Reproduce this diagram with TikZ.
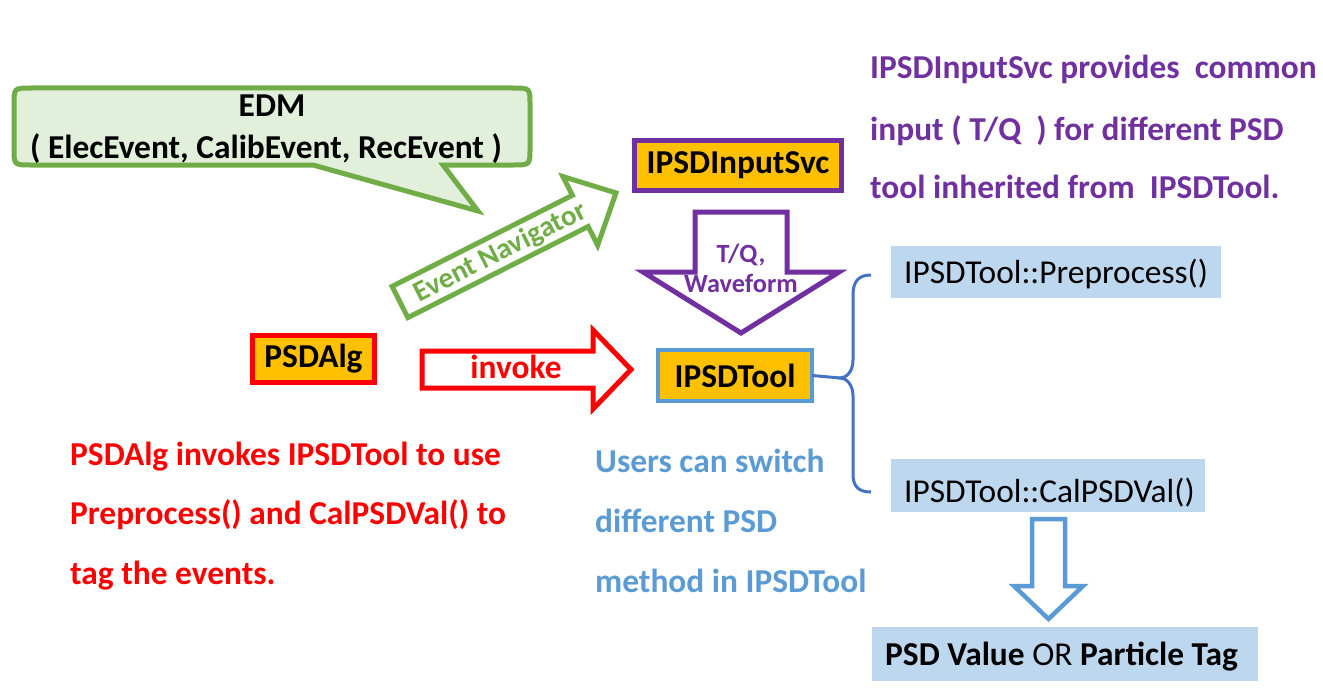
\documentclass[tikz,border=0pt]{standalone}
\usepackage{fontspec}
\setmainfont{Carlito}
\definecolor{grn}{HTML}{70AD47}
\definecolor{lgrn}{HTML}{E2EFDA}
\definecolor{orng}{HTML}{FFC000}
\definecolor{purp}{HTML}{7030A0}
\definecolor{redc}{HTML}{FF0000}
\definecolor{blu}{HTML}{5B9BD5}
\definecolor{dblu}{HTML}{4472C4}
\definecolor{lblu}{HTML}{BDD7EE}
\newcommand\bigfont{\fontsize{33.4}{40}\selectfont}
\tikzset{
  txt/.style={inner sep=0pt, anchor=base west, font=\bfseries\bigfont},
  obox/.style={fill=orng, line width=5pt, inner sep=0pt, outer sep=0pt, font=\bfseries\bigfont},
  lbox/.style={fill=lblu, inner sep=0pt, outer sep=0pt, anchor=north west},
  ltxt/.style={inner sep=0pt, anchor=base west, font=\bigfont},
  barrow/.style={line width=5pt, fill=white, line join=miter},
}
\begin{document}
\begin{tikzpicture}[x=1pt,y=-1pt]
\useasboundingbox[fill=white] (0,0) rectangle (1323,693);

% EDM callout
\draw[line width=5pt, draw=grn, fill=lgrn, line join=miter]
  (31,88) -- (513,88) .. controls (530,88) .. (530,105) -- (530,148)
  .. controls (530,165) .. (513,165) -- (443,165) -- (478,211) -- (313,165)
  -- (31,165) .. controls (14,165) .. (14,148) -- (14,105) .. controls (14,88) .. (31,88) -- cycle;
\node[inner sep=0pt, anchor=base, font=\bfseries\bigfont] (edm) at (272,117) {EDM};
\node[inner sep=0pt, anchor=base, font=\bfseries\bigfont] (edm2) at (266,158) {( ElecEvent, CalibEvent, RecEvent )};

% Event Navigator arrow
\begin{scope}[shift={(400,302)}, rotate=26.8]
  \draw[barrow, draw=grn] (0,-17.5) -- (202,-17.5) -- (202,-38.5) -- (242,0) -- (202,38.5) -- (202,17.5) -- (0,17.5) -- cycle;
  \coordinate (navc) at (112,1);
\end{scope}
\node[rotate=26.8, inner sep=0pt, text=grn, font=\bfseries\fontsize{29}{35}\selectfont] (nav) at (navc) {Event Navigator};

% boxes
\node[obox, draw=purp, minimum width=207pt, minimum height=50pt] (svc) at (738,165.5) {IPSDInputSvc};
\node[obox, draw=redc, minimum width=122pt, minimum height=47pt] (alg) at (313.5,359) {PSDAlg};
\node[obox, draw=blu, line width=4pt, minimum width=154pt, minimum height=51pt] (tool) at (735,375.5) {IPSDTool};

% purple down arrow
\draw[barrow, draw=purp] (695,212) -- (787,212) -- (787,272) -- (839,272) -- (741,333) -- (643,272) -- (695,272) -- cycle;
\node[inner sep=0pt, anchor=base, text=purp, font=\bfseries\fontsize{26.3}{32}\selectfont] (tq) at (741,262) {T/Q,};
\node[inner sep=0pt, anchor=base, text=purp, font=\bfseries\fontsize{26.3}{32}\selectfont] (wf) at (741,292) {Waveform};

% red invoke arrow
\draw[barrow, draw=redc] (422,351) -- (593,351) -- (593,330) -- (631,369.5) -- (593,409) -- (593,388) -- (422,388) -- cycle;
\node[inner sep=0pt, anchor=base, text=redc, font=\bfseries\bigfont] (inv) at (516,378) {invoke};

% brace
\coordinate (cusp) at (840,378);
\draw[dblu, line width=3pt] (tool.east) -- (cusp);
\draw[dblu, line width=3pt]
  (871,275) .. controls (858,275) and (853,282) .. (853,295) -- (853,360)
  .. controls (853,372) and (846,378) .. (cusp)
  .. controls (846,378) and (853,384) .. (853,396) -- (853,474)
  .. controls (853,486) and (858,492) .. (871,492);

% method boxes
\node[lbox, minimum width=330pt, minimum height=52pt] (preb) at (891,246) {};
\node[ltxt] (pre) at (904,283) {IPSDTool::Preprocess()};
\node[lbox, minimum width=314pt, minimum height=53pt] (calb) at (891,459) {};
\node[ltxt] (cal) at (904,502) {IPSDTool::CalPSDVal()};
\node[lbox, minimum width=386pt, minimum height=54pt] (resb) at (872,627) {};
\node[ltxt] (res) at (885,665) {\textbf{PSD Value} OR \textbf{Particle Tag}};

% blue down arrow
\draw[barrow, draw=blu, line width=4.5pt] (1032,519) -- (1065,519) -- (1065,586) -- (1083,586) -- (1048.5,619) -- (1014,586) -- (1032,586) -- cycle;

% purple text
\node[txt, text=purp] (p1) at (870,79) {IPSDInputSvc provides\ \ common};
\node[txt, text=purp] (p2) at (870,140) {input ( T/Q\ \ ) for different PSD};
\node[txt, text=purp] (p3) at (870,198) {tool inherited from\ \ IPSDTool.};

% red text
\node[txt, text=redc] (r1) at (70,465) {PSDAlg invokes IPSDTool to use};
\node[txt, text=redc] (r2) at (70,524) {Preprocess() and CalPSDVal() to};
\node[txt, text=redc] (r3) at (70,584) {tag the events.};

% blue text
\node[txt, text=blu] (b1) at (595,472) {Users can switch};
\node[txt, text=blu] (b2) at (595,532) {different PSD};
\node[txt, text=blu] (b3) at (595,592) {method in IPSDTool};
\end{tikzpicture}
\end{document}
